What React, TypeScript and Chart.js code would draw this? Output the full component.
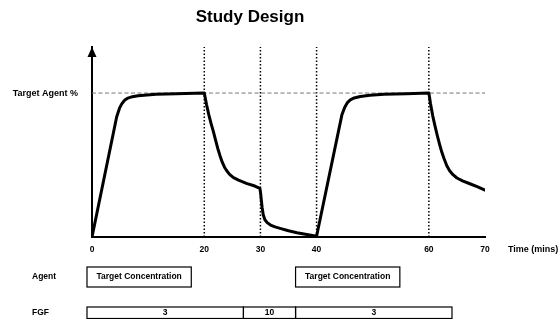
import React, { useEffect, useRef } from 'react';
import { Chart, registerables } from 'chart.js';

Chart.register(...registerables);

// ---- data ----
const times = [
  0, 4.4, 4.9, 5.3, 5.8, 6.4, 7.2, 8.2, 11.4, 15, 20,
  20.4, 20.8, 21.2, 21.6, 22.0, 22.4, 22.8, 23.2, 23.6, 24.0, 24.5, 25.2, 26.1, 27.5, 29.0, 29.9,
  30.05, 30.15, 30.3, 30.5, 30.8, 31.2, 31.8, 32.6, 33.5, 35, 36.5, 38.5, 40,
  44.5, 45.0, 45.5, 46.0, 46.7, 47.8, 49.5, 52, 56, 60,
  60.3, 60.7, 61.1, 61.5, 61.9, 62.3, 62.7, 63.2, 63.7, 64.3, 65.0, 66.0, 67.3, 68.6, 70,
];
const agentPct = [
  0, 83.5, 89.5, 92.5, 95, 96.5, 97.5, 98.2, 99.1, 99.6, 100,
  92, 85, 79, 73.5, 67.5, 61.5, 56.5, 52, 48.5, 46, 43.5, 41.2, 39.5, 37.3, 35.4, 33.8,
  30, 26, 20.5, 15.5, 12, 10, 8.3, 7, 6, 4.3, 3, 1.5, 0.5,
  84.7, 90, 93.4, 95.3, 96.6, 97.6, 98.4, 99.1, 99.6, 100,
  92.5, 84, 77, 70.5, 64.5, 59, 54.5, 49.5, 46, 43.3, 41, 39, 37, 35, 32.5,
];
const tickTimes = [0, 20, 30, 40, 60, 70];
const phaseTimes = [20, 30, 40, 60];
const targetLevel = 100;
const yLabel = 'Target Agent %';
const xLabel = 'Time (mins)';
const titleText = 'Study Design';

const agentStarts = [0, 40];
const agentEnds = [20, 60];
const agentLabels = ['Target Concentration', 'Target Concentration'];
const fgfStarts = [0, 30, 40];
const fgfEnds = [30, 40, 70];
const fgfLabels = ['3', '10', '3'];

const FONT = '"Liberation Sans", Arial, Helvetica, sans-serif';

const decorPlugin = {
  id: 'decor',
  afterDraw(chart: any) {
    const { ctx, chartArea, scales } = chart;
    const xb = scales.xb;
    ctx.save();
    ctx.fillStyle = '#000';
    ctx.strokeStyle = '#000';

    // title
    ctx.font = `bold 17px ${FONT}`;
    ctx.textAlign = 'center';
    ctx.textBaseline = 'middle';
    ctx.fillText(titleText, 250, 17);

    // arrow head on y axis
    const ax = chartArea.left;
    const top = chartArea.top;
    ctx.beginPath();
    ctx.moveTo(ax, top);
    ctx.lineTo(ax - 4.5, top + 10);
    ctx.lineTo(ax + 4.5, top + 10);
    ctx.closePath();
    ctx.fill();

    // x axis label
    ctx.font = `bold 9px ${FONT}`;
    ctx.textAlign = 'left';
    ctx.fillText(xLabel, 508, 250);

    // rows
    const rowLabelX = 32;
    const agentTop = chartArea.bottom + 30;
    const agentH = 20;
    const fgfTop = chartArea.bottom + 70;
    const fgfH = 11.5;

    ctx.font = `bold 8.5px ${FONT}`;
    ctx.textAlign = 'left';
    ctx.fillText('Agent', rowLabelX, agentTop + agentH / 2);
    ctx.fillText('FGF', rowLabelX, fgfTop + 6);

    ctx.lineWidth = 1.2;
    ctx.textAlign = 'center';
    agentStarts.forEach((s, i) => {
      const x0 = xb.getPixelForValue(s);
      const x1 = xb.getPixelForValue(agentEnds[i]);
      ctx.strokeRect(x0, agentTop, x1 - x0, agentH);
      ctx.fillText(agentLabels[i], (x0 + x1) / 2, agentTop + agentH / 2);
    });
    fgfStarts.forEach((s, i) => {
      const x0 = xb.getPixelForValue(s);
      const x1 = xb.getPixelForValue(fgfEnds[i]);
      ctx.strokeRect(x0, fgfTop, x1 - x0, fgfH);
      ctx.fillText(fgfLabels[i], (x0 + x1) / 2, fgfTop + 6);
    });
    ctx.restore();
  },
};

export default function App() {
  const ref = useRef<HTMLCanvasElement | null>(null);

  useEffect(() => {
    if (!ref.current) return;
    const curve = times.map((t, i) => ({ x: t, y: agentPct[i] }));
    const phaseSets = phaseTimes.map((t) => ({
      type: 'line' as const,
      data: [{ x: t, y: 0 }, { x: t, y: 132 }],
      borderColor: '#000',
      borderWidth: 1.5,
      borderDash: [1.5, 2],
      pointRadius: 0,
    }));
    const chart = new Chart(ref.current, {
      type: 'line',
      data: {
        datasets: [
          {
            data: curve,
            borderColor: '#000',
            borderWidth: 3,
            pointRadius: 0,
            tension: 0,
            borderJoinStyle: 'round',
            borderCapStyle: 'round',
          },
          {
            data: [{ x: 0, y: targetLevel }, { x: 70, y: targetLevel }],
            borderColor: '#777',
            borderWidth: 1,
            borderDash: [4, 2.5],
            pointRadius: 0,
          },
          ...phaseSets,
        ] as any,
      },
      options: {
        responsive: false,
        animation: false,
        devicePixelRatio: 1,
        layout: { padding: { top: 47, right: 75, left: 0, bottom: 0 } },
        plugins: {
          legend: { display: false },
          tooltip: { enabled: false },
          title: { display: false },
        },
        scales: {
          x: {
            type: 'linear',
            min: 0,
            max: 70,
            grid: { display: false, drawTicks: false },
            border: { display: true, color: '#000', width: 2 },
            afterBuildTicks: (s: any) => {
              s.ticks = tickTimes.map((v) => ({ value: v }));
            },
            afterFit: (s: any) => {
              s.height = 82;
            },
            ticks: {
              autoSkip: false,
              maxRotation: 0,
              padding: 8,
              color: '#000',
              font: { family: FONT, size: 8.5, weight: 'bold' },
            },
          },
          xb: {
            type: 'linear',
            display: false,
            min: 0.96,
            max: 76.33,
          },
          y: {
            type: 'linear',
            min: 0,
            max: 132,
            grid: { display: false, drawTicks: false },
            border: { display: true, color: '#000', width: 2 },
            afterBuildTicks: (s: any) => {
              s.ticks = [{ value: targetLevel }];
            },
            afterFit: (s: any) => {
              s.width = 92;
            },
            ticks: {
              padding: 14,
              color: '#000',
              font: { family: FONT, size: 9, weight: 'bold' },
              callback: () => yLabel,
            },
          },
        },
      } as any,
      plugins: [decorPlugin],
    });
    return () => chart.destroy();
  }, []);

  return (
    <div style={{ position: 'fixed', left: 0, top: 0, width: 560, height: 319, background: '#fff' }}>
      <canvas ref={ref} width={560} height={319} style={{ width: 560, height: 319, display: 'block' }} />
    </div>
  );
}
